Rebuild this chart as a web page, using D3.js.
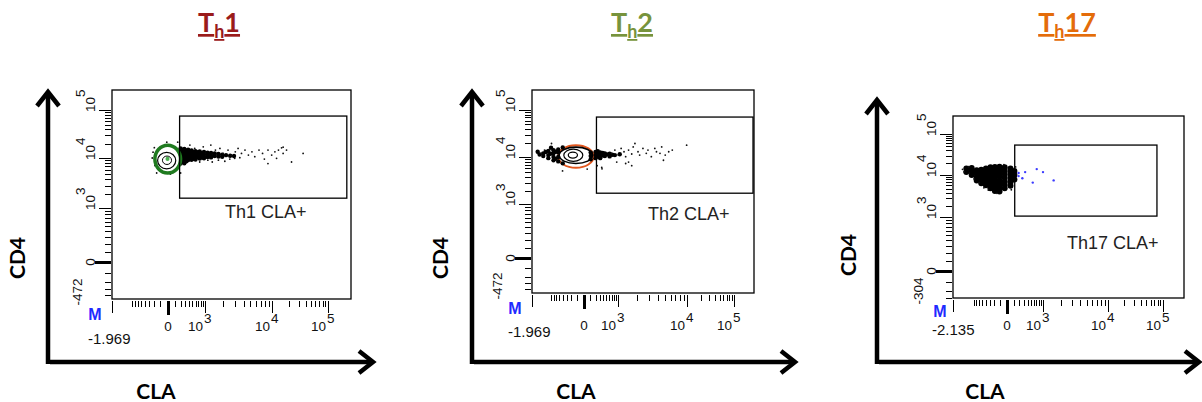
<!DOCTYPE html>
<meta charset="utf-8">
<style>

body {
  margin: 0;
  background: #fff;
}

svg {
  display: block;
  font-family: "Liberation Sans", Arial, sans-serif;
}

.frame,
.gate {
  fill: none;
  stroke: #000;
  stroke-width: 1.3;
}

.axis path {
  display: none;
}

.axis line {
  stroke: #000;
  shape-rendering: crispEdges;
}

.tick-label {
  font-size: 13.5px;
  fill: #111;
}

.big-arrow {
  fill: none;
  stroke: #000;
  stroke-width: 4.5;
  stroke-linejoin: miter;
}

.axis-title {
  font-family: Lato, "Open Sans", sans-serif;
  font-weight: bold;
  font-size: 21px;
  fill: #000;
}

.title {
  font-family: Lato, "Open Sans", sans-serif;
  font-weight: bold;
  font-size: 27px;
  text-decoration: underline;
}

.gate-label {
  font-size: 18px;
  fill: #222;
}

.marker {
  font-weight: bold;
  font-size: 16px;
  fill: #1f2bff;
}

</style>
<body>
<script src="https://d3js.org/d3.v7.min.js"></script>
<script>

// ---- data ----

var titleNums = ["1", "2", "17"];
var titleColors = ["#9a1b1b", "#77933c", "#e46c0a"];
var gateNames = ["Th1 CLA+", "Th2 CLA+", "Th17 CLA+"];

var xMinValues = [-1969, -1969, -2135];
var yMinValues = [-472, -472, -304];
var xMinLabels = ["-1.969", "-1.969", "-2.135"];
var yMinLabels = ["-472", "-472", "-304"];
var axisMax = 262144;

var decades = [1000, 10000, 100000];
var decadeExps = ["3", "4", "5"];
var minorTicks = [-800, -700, -600, -500, -400, -300, -200, -100,
                  100, 200, 300, 400, 500, 600, 700, 800, 900,
                  2000, 3000, 4000, 5000, 6000, 7000, 8000, 9000,
                  20000, 30000, 40000, 50000, 60000, 70000, 80000, 90000];
var yMinorNeg = [-400, -300, -200, -100];

// gates: [claLo, claHi, cd4Lo, cd4Hi]
var th1Gate = [181, 220000, 1660, 75000];
var th2Gate = [220, 250000, 1800, 71000];
var th17Gate = [115, 77800, 1060, 54000];

// contour levels: [claLo, claHi, cd4Lo, cd4Hi]
var th1Contours = [[-190, 200, 5250, 18600], [-143, 112, 6310, 13200], [-70, 47, 7590, 11000], [-30, 20, 8800, 10600]];
var th2Contours = [[-534, 159, 6120, 18000], [-505, 140, 7450, 16300], [-372, -15, 8220, 14800], [-264, -91, 9520, 12800]];

// events [CLA, CD4]
var th1Dense = [
  [200, 15900], [200, 14000], [200, 12100], [200, 10500], [200, 9120], [200, 7940],
  [240, 14800], [240, 13000], [240, 11300], [240, 9800], [240, 8500],
  [280, 15500], [280, 14000], [280, 12100], [280, 10500], [280, 9120], [280, 8000],
  [330, 14500], [330, 12800], [330, 11300], [330, 9800], [330, 8700],
  [375, 15000], [375, 13500], [375, 12100], [375, 10500], [375, 9200],
  [420, 14000], [420, 12500], [420, 11200], [420, 9800],
  [470, 14500], [470, 13000], [470, 11800], [470, 10500], [470, 9300],
  [530, 13500], [530, 12200], [530, 10900], [530, 9700],
  [600, 14000], [600, 12500], [600, 11200], [600, 10000], [600, 9400],
  [680, 13200], [680, 11800], [680, 10500],
  [760, 13800], [760, 12300], [760, 11000], [760, 9800],
  [850, 12800], [850, 11400], [850, 10200],
  [950, 13500], [950, 12000], [950, 10700], [950, 9900],
  [1110, 13000], [1110, 11700], [1110, 10500],
  [1270, 12800], [1270, 11300], [1270, 10300],
  [1460, 12500], [1460, 11000], [1675, 12200], [1675, 10800],
  [1920, 11800], [1920, 10600], [2200, 11500], [2540, 11200], [2900, 11000]
];

var th1Sparse = [
  [1500, 14700], [1770, 15900], [1990, 12500], [2360, 14700], [2640, 11550], [3030, 13500],
  [3330, 15900], [3730, 12500], [4190, 14700], [4690, 11550], [5260, 13500], [5770, 10650],
  [6610, 14700], [7410, 12500], [7850, 9550], [8810, 14700], [9900, 11550], [11300, 13500],
  [12100, 9860], [14900, 16400], [15900, 12500], [18300, 14700], [22500, 8440], [36200, 12500],
  [1120, 9120], [1330, 8440], [1675, 9120], [2110, 8710], [2510, 9550], [2970, 9860],
  [3530, 10150], [760, 8440], [573, 15900], [423, 18700], [915, 17200], [1260, 18700],
  [8800, 7900], [15900, 16900], [13100, 14700],
  [-224, 13300], [-190, 7240], [-159, 5250], [-14, 21500], [31, 5010], [146, 21500],
  [200, 5250], [-240, 10000], [-200, 16500]
];

var th2Dense = [
  [-1530, 13000], [-1180, 12000], [-1180, 10500], [-920, 13500], [-920, 11000], [-920, 9500],
  [-700, 14000], [-700, 12000], [-700, 10000], [-700, 8600], [-534, 14500], [-534, 12500],
  [-534, 10000], [-534, 8200], [-400, 16000], [-400, 7500], [-1400, 11300], [-800, 15800],
  [-1050, 12800], [-820, 11800], [-620, 13000], [-620, 9200],
  [104, 12500], [104, 10500], [104, 9000], [199, 12800], [199, 11000], [199, 9500],
  [250, 13400], [250, 11800], [250, 10200],
  [311, 12600], [311, 11000], [311, 9500], [380, 12300], [380, 10700],
  [447, 12000], [447, 10500], [530, 11400], [614, 11800],
  [614, 10300], [720, 11200], [840, 11000], [1070, 11500]
];

var th2Sparse = [
  [687, 12000], [840, 14100], [1010, 11030], [1130, 15300], [1260, 13000], [1340, 10150],
  [1490, 14100], [1670, 11600], [1760, 16500], [1870, 19500], [2080, 13000], [2200, 11030],
  [2460, 15300], [2750, 12000], [2910, 14100], [3250, 10150], [3640, 15300], [3840, 13000],
  [4300, 12000], [4540, 16500], [5080, 11030], [5670, 13000], [6340, 14100], [9890, 18000],
  [933, 7940], [1490, 7940], [353, 6220], [-405, 5290], [-1110, 14100], [-1310, 12000],
  [-780, 19500], [46, 5760], [235, 6760], [4800, 8630], [1670, 6760], [1340, 7450], [360, 5840]
];

var th17Blob = [
  [-1170, 14500], [-1170, 11800],
  [-900, 15000], [-900, 12500], [-900, 10000],
  [-690, 13200], [-690, 11000], [-690, 9000], [-690, 7600],
  [-530, 13500], [-530, 11200], [-530, 9300], [-530, 7800], [-530, 6600],
  [-393, 14500], [-393, 12000], [-393, 10000], [-393, 8400], [-393, 7000], [-393, 5900],
  [-282, 15500], [-282, 12800], [-282, 10600], [-282, 8800], [-282, 7300], [-282, 6100], [-282, 5100],
  [-188, 15700], [-188, 13000], [-188, 10800], [-188, 9000], [-188, 7400], [-188, 6200], [-188, 5200], [-188, 4400],
  [-106, 16000], [-106, 13200], [-106, 11000], [-106, 9100], [-106, 7500], [-106, 6300], [-106, 5200], [-106, 4300],
  [-30, 15500], [-30, 12800], [-30, 10600], [-30, 8800], [-30, 7300], [-30, 6100], [-30, 5100],
  [48, 14500], [48, 12000], [48, 10000], [48, 8300], [48, 6900], [48, 5800],
  [110, 12500], [110, 10000], [110, 8000]
];

var th17Sparse = [
  [-1400, 13800], [-1300, 12000], [-1050, 16000], [-800, 8200], [-600, 6800], [-450, 5200],
  [-330, 4600], [-150, 3900], [60, 4700], [130, 15800], [-40, 18000]
];

var th17Blue = [
  [187, 11200], [336, 11800], [714, 14000], [1000, 11800], [268, 8480], [565, 6800],
  [1530, 7600], [187, 9470]
];

// ---- layout (pixels) ----

var layout = [
  {frame: [112, 90, 351, 299], xPx: [112, 168, 205, 272, 328, 351], yPx: [299, 262, 208, 158, 110, 90],
   arrow: {x: 48, y: 362, top: 92, right: 373}, cd4: [18, 258], cla: [156, 392], title: [219, 32],
   gateLabel: [225, 218], xLabelY: 331, minX: [88, 344], marker: [95, 320],
   contourStroke: ["#1f7a1f", "#000", "#000", "none"], contourWidth: [3.5, 1.2, 1, 0],
   contourFill: ["#fff", "none", "none", "#4caf50"], contoursOnTop: true},
  {frame: [532, 90, 754, 293], xPx: [532, 584, 618, 687, 734, 754], yPx: [293, 258, 204, 157, 110, 90],
   arrow: {x: 472, y: 362, top: 92, right: 795}, cd4: [441, 258], cla: [576, 392], title: [632, 32],
   gateLabel: [648, 220], xLabelY: 330, minX: [508, 337], marker: [515, 314],
   contourStroke: ["#e2571e", "#000", "#000", "#000"], contourWidth: [2, 1.6, 1.2, 1.2],
   contourFill: ["none", "none", "none", "none"], contoursOnTop: false},
  {frame: [953, 116, 1184, 298], xPx: [953, 1007, 1043, 1108, 1163, 1184], yPx: [298, 271, 217, 175, 134, 116],
   arrow: {x: 877, y: 362, top: 100, right: 1199}, cd4: [849, 255], cla: [985, 392], title: [1067, 32],
   gateLabel: [1067, 249], xLabelY: 330, minX: [932, 335], marker: [940, 317],
   contourStroke: [], contourWidth: [], contourFill: [], contoursOnTop: true}
];

var gates = [th1Gate, th2Gate, th17Gate];
var contours = [th1Contours, th2Contours, []];
var denseData = [th1Dense, th2Dense, th17Blob];
var denseRadius = [2.2, 2.2, 3];
var sparseData = [th1Sparse, th2Sparse, th17Sparse];
var blueData = [[], [], th17Blue];

var svg = d3.select("body").append("svg")
    .attr("width", 1202)
    .attr("height", 402);

layout.forEach(function(L, i) {
  var g = svg.append("g").attr("class", "panel");
  var f = L.frame;

  var x = d3.scaleSymlog().constant(330)
      .domain([xMinValues[i], 0, 1e3, 1e4, 1e5, axisMax])
      .range(L.xPx);
  var y = d3.scaleSymlog().constant(330)
      .domain([yMinValues[i], 0, 1e3, 1e4, 1e5, axisMax])
      .range(L.yPx);

  // big hand-drawn axes
  var a = L.arrow;
  g.append("path")
      .attr("class", "big-arrow")
      .attr("d", "M" + a.x + "," + (a.y + 2) + "V" + a.top + "M" + (a.x + 2) + "," + a.y + "H" + a.right);
  g.append("path")
      .attr("class", "big-arrow")
      .attr("d", "M" + (a.x - 11) + "," + (a.top + 14) + "L" + a.x + "," + a.top + "L" + (a.x + 11) + "," + (a.top + 14));
  g.append("path")
      .attr("class", "big-arrow")
      .attr("d", "M" + (a.right - 14) + "," + (a.y - 11) + "L" + a.right + "," + a.y + "L" + (a.right - 14) + "," + (a.y + 11));

  g.append("text")
      .attr("class", "axis-title")
      .attr("text-anchor", "middle")
      .attr("transform", "translate(" + L.cd4[0] + "," + L.cd4[1] + ") rotate(-90)")
      .attr("dy", "0.35em")
      .text("CD4");
  g.append("text")
      .attr("class", "axis-title")
      .attr("text-anchor", "middle")
      .attr("x", L.cla[0])
      .attr("y", L.cla[1])
      .attr("dy", "0.35em")
      .text("CLA");

  // title T_h n
  var t = g.append("text")
      .attr("class", "title")
      .attr("x", L.title[0])
      .attr("y", L.title[1])
      .attr("text-anchor", "middle")
      .style("fill", titleColors[i]);
  t.append("tspan").text("T");
  t.append("tspan").attr("dy", 6).style("font-size", "18px").text("h");
  t.append("tspan").attr("dy", -6).text(titleNums[i]);

  // frame
  g.append("rect")
      .attr("class", "frame")
      .attr("x", f[0])
      .attr("y", f[1])
      .attr("width", f[2] - f[0])
      .attr("height", f[3] - f[1]);

  // x axis ticks
  var xAxisG = g.append("g").attr("transform", "translate(0," + (f[3] + 2) + ")");
  xAxisG.append("g").attr("class", "axis")
      .call(d3.axisBottom(x).tickValues(minorTicks).tickSize(6).tickFormat(""));
  xAxisG.append("g").attr("class", "axis")
      .call(d3.axisBottom(x).tickValues([xMinValues[i]].concat(decades)).tickSize(12).tickFormat(""));
  xAxisG.append("g").attr("class", "axis")
      .call(d3.axisBottom(x).tickValues([0]).tickSize(14).tickFormat(""))
      .selectAll("line").style("stroke-width", 3);

  // y axis ticks
  var yAxisG = g.append("g").attr("transform", "translate(" + (f[0] - 1) + ",0)");
  yAxisG.append("g").attr("class", "axis")
      .call(d3.axisLeft(y).tickValues(yMinorNeg.filter(function(v) { return v > yMinValues[i]; })
        .concat(minorTicks.filter(function(v) { return v > 0; }))).tickSize(6).tickFormat(""));
  yAxisG.append("g").attr("class", "axis")
      .call(d3.axisLeft(y).tickValues(decades).tickSize(12).tickFormat(""));
  yAxisG.append("g").attr("class", "axis")
      .call(d3.axisLeft(y).tickValues([0]).tickSize(16).tickFormat(""))
      .selectAll("line").style("stroke-width", 3);

  // x tick labels
  g.append("text").attr("class", "tick-label")
      .attr("x", x(0)).attr("y", L.xLabelY)
      .attr("text-anchor", "middle")
      .text("0");
  decades.forEach(function(d, k) {
    g.append("text").attr("class", "tick-label")
        .attr("x", x(d) - 2).attr("y", L.xLabelY)
        .attr("text-anchor", "end")
        .text("10");
    g.append("text").attr("class", "tick-label")
        .attr("x", x(d) - 1).attr("y", L.xLabelY - 8)
        .text(decadeExps[k]);
  });
  g.append("text").attr("class", "tick-label")
      .attr("x", L.minX[0]).attr("y", L.minX[1])
      .style("font-size", "15px")
      .text(xMinLabels[i]);

  // y tick labels (rotated)
  var yLabX = f[0] - 17;
  g.append("text").attr("class", "tick-label")
      .attr("transform", "translate(" + yLabX + "," + y(0) + ") rotate(-90)")
      .attr("text-anchor", "middle")
      .text("0");
  decades.forEach(function(d, k) {
    var lab = g.append("text").attr("class", "tick-label")
        .attr("transform", "translate(" + yLabX + "," + (y(d) + 2) + ") rotate(-90)");
    lab.append("tspan").text("10");
    lab.append("tspan").attr("dy", -10).text(decadeExps[k]);
  });
  g.append("text").attr("class", "tick-label")
      .attr("transform", "translate(" + (f[0] - 30) + "," + (f[3] - 7) + ") rotate(-90)")
      .attr("text-anchor", "middle")
      .text(yMinLabels[i]);

  g.append("text").attr("class", "marker")
      .attr("x", L.marker[0]).attr("y", L.marker[1])
      .attr("text-anchor", "middle")
      .text("M");

  function drawContours() {
    g.selectAll(null)
        .data(contours[i])
      .enter().append("ellipse")
        .attr("cx", function(c) { return (x(c[0]) + x(c[1])) / 2; })
        .attr("cy", function(c) { return (y(c[2]) + y(c[3])) / 2; })
        .attr("rx", function(c) { return (x(c[1]) - x(c[0])) / 2; })
        .attr("ry", function(c) { return (y(c[2]) - y(c[3])) / 2; })
        .style("fill", function(c, k) { return L.contourFill[k]; })
        .style("stroke", function(c, k) { return L.contourStroke[k]; })
        .style("stroke-width", function(c, k) { return L.contourWidth[k]; });
  }

  if (!L.contoursOnTop) drawContours();

  g.selectAll(null)
      .data(denseData[i])
    .enter().append("circle")
      .attr("cx", function(d) { return x(d[0]); })
      .attr("cy", function(d) { return y(d[1]); })
      .attr("r", denseRadius[i])
      .style("fill", "#000");

  g.selectAll(null)
      .data(sparseData[i])
    .enter().append("circle")
      .attr("cx", function(d) { return x(d[0]); })
      .attr("cy", function(d) { return y(d[1]); })
      .attr("r", 0.9)
      .style("fill", "#111");

  g.selectAll(null)
      .data(blueData[i])
    .enter().append("circle")
      .attr("cx", function(d) { return x(d[0]); })
      .attr("cy", function(d) { return y(d[1]); })
      .attr("r", 1.2)
      .style("fill", "#3b3bff");

  if (L.contoursOnTop) drawContours();

  // gate
  var gt = gates[i];
  g.append("rect")
      .attr("class", "gate")
      .attr("x", x(gt[0]))
      .attr("y", y(gt[3]))
      .attr("width", x(gt[1]) - x(gt[0]))
      .attr("height", y(gt[2]) - y(gt[3]));
  g.append("text")
      .attr("class", "gate-label")
      .attr("x", L.gateLabel[0])
      .attr("y", L.gateLabel[1])
      .text(gateNames[i]);
});

</script>
